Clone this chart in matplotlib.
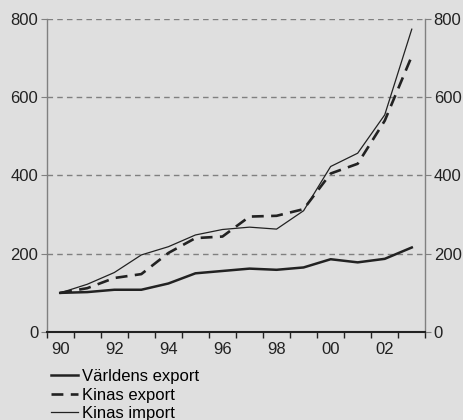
import numpy as np
import matplotlib.pyplot as plt

plt.rcParams['font.family'] = ['Liberation Sans', 'DejaVu Sans']

years = np.arange(1990, 2004)
varldens_export = [100, 102, 108, 108, 124, 150, 156, 162, 159, 165, 186, 178, 187, 216]
kinas_export = [100, 112, 138, 148, 202, 240, 244, 295, 297, 314, 405, 430, 540, 705]
kinas_import = [100, 122, 152, 197, 218, 248, 262, 268, 263, 310, 423, 457, 555, 774]
year_labels = ['90', '92', '94', '96', '98', '00', '02']

bg = '#dfdfdf'
fig = plt.figure(figsize=(4.64, 4.2), dpi=100, facecolor=bg)
ax = fig.add_axes([0.1006, 0.2095, 0.816, 0.7453], facecolor=bg)

l1, = ax.plot(years, varldens_export, color='#222222', lw=1.8, label='Världens export')
l2, = ax.plot(years, kinas_export, color='#222222', lw=1.9, ls=(0, (4.5, 2.8)), label='Kinas export')
l3, = ax.plot(years, kinas_import, color='#222222', lw=0.9, label='Kinas import')

ax.set_xlim(1989.5, 2003.5)
ax.set_ylim(0, 800)
ax.set_yticks([0, 200, 400, 600, 800])
ax.yaxis.grid(True, color='#808080', ls=(0, (4, 3)), lw=1.0)
ax.set_axisbelow(True)

ax.set_xticks(years[::2])
ax.set_xticklabels(year_labels)
ax.set_xticks(np.arange(1989.5, 2004, 1), minor=True)
ax.tick_params(axis='x', which='major', length=0, pad=7, labelsize=12, colors='#222222')
ax.tick_params(axis='x', which='minor', length=4, direction='out', color='#222222', width=1)
ax.tick_params(axis='y', which='major', length=4, color='#808080', labelsize=12,
               labelcolor='#222222', left=True, right=True, labelleft=True, labelright=True, pad=2)

for s in ['left', 'right']:
    ax.spines[s].set_color('#808080')
    ax.spines[s].set_linewidth(1.0)
ax.spines['top'].set_visible(False)
ax.spines['bottom'].set_color('#222222')
ax.spines['bottom'].set_linewidth(1.5)

fig.legend(handles=[l1, l2, l3], loc='upper left', bbox_to_anchor=(0.11, 0.121),
           frameon=False, fontsize=12, handlelength=1.6, handletextpad=0.25,
           labelspacing=0.2, borderaxespad=0, borderpad=0)

fig.savefig('out.png', dpi=100, facecolor=bg)
